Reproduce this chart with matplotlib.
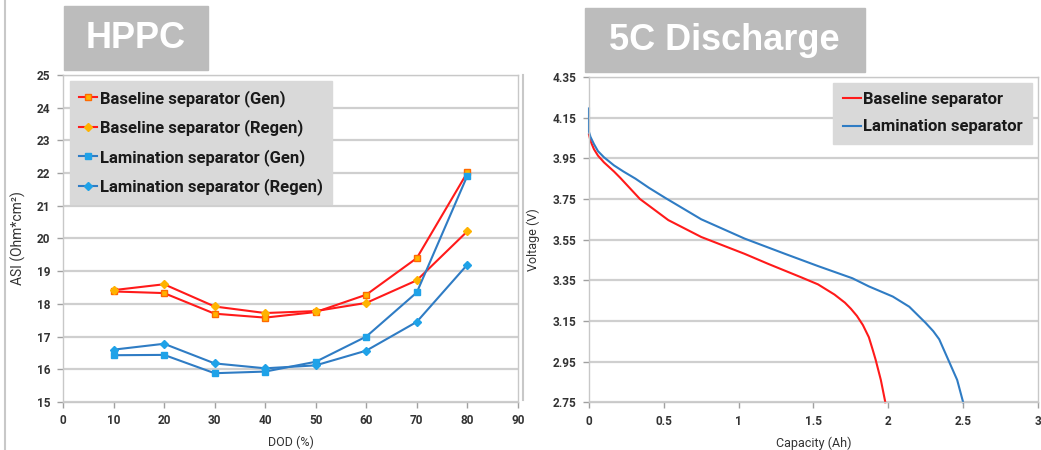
import matplotlib.pyplot as plt
from matplotlib.lines import Line2D

plt.rcParams['font.family'] = ['Roboto', 'DejaVu Sans']
plt.rcParams['font.weight'] = 'bold'

# HPPC data
dod = [10, 20, 30, 40, 50, 60, 70, 80]
base_gen = [18.38, 18.33, 17.70, 17.58, 17.75, 18.28, 19.40, 22.02]
base_regen = [18.42, 18.60, 17.92, 17.72, 17.78, 18.03, 18.72, 20.22]
lam_gen = [16.43, 16.44, 15.88, 15.93, 16.23, 17.00, 18.35, 21.92]
lam_regen = [16.60, 16.78, 16.18, 16.03, 16.12, 16.57, 17.45, 19.20]

# 5C discharge curves
base_cap = [0, 0.01, 0.033, 0.06, 0.10, 0.167, 0.21, 0.34, 0.53, 0.75, 1.04,
            1.20, 1.42, 1.53, 1.64, 1.71, 1.75, 1.79, 1.83, 1.87, 1.895,
            1.915, 1.95, 1.98]
base_volt = [4.067, 4.035, 3.995, 3.963, 3.93, 3.885, 3.853, 3.75, 3.646, 3.563,
             3.48, 3.43, 3.364, 3.33, 3.28, 3.24, 3.21, 3.175, 3.13, 3.07,
             3.01, 2.96, 2.86, 2.75]
lam_cap = [0, 0, 0.01, 0.033, 0.06, 0.10, 0.167, 0.23, 0.31, 0.40, 0.51, 0.75,
           1.04, 1.31, 1.53, 1.76, 1.87, 2.03, 2.14, 2.25, 2.30, 2.34, 2.37,
           2.40, 2.46, 2.50]
lam_volt = [4.195, 4.08, 4.055, 4.02, 3.985, 3.955, 3.915, 3.885, 3.85, 3.805,
            3.755, 3.65, 3.555, 3.48, 3.42, 3.36, 3.32, 3.27, 3.22, 3.14, 3.10,
            3.06, 3.01, 2.96, 2.86, 2.75]

RED = '#ff1a1a'
BLUE = '#2f7cc4'
LBLUE = '#1fa2e8'
ORANGE = '#ffb300'
GRID = '#cfcfcf'
TXT = '#333333'

fig = plt.figure(figsize=(10.41, 4.5), dpi=100)
fig.patch.set_facecolor('white')


def style_axes(ax):
    for s in ax.spines.values():
        s.set_color('#c8c8c8')
        s.set_linewidth(1)
    ax.tick_params(colors='#a0a0a0', labelcolor=TXT, labelsize=8.5,
                   length=4, width=1, direction='out', pad=5)
    ax.yaxis.grid(True, color=GRID, linewidth=1.6)
    ax.set_axisbelow(True)


def style_legend(leg):
    fr = leg.get_frame()
    fr.set_facecolor('#d9d9d9')
    fr.set_edgecolor('#d9d9d9')
    fr.set_alpha(1)
    for t in leg.get_texts():
        t.set_color('#1a1a1a')


# left: HPPC
ax1 = fig.add_axes([0.0605, 0.1067, 0.437, 0.7267])
ax1.plot(dod, base_gen, color=RED, lw=1.5, marker='s', ms=5,
         mfc=ORANGE, mec='#ff6a00', label='Baseline separator (Gen)')
ax1.plot(dod, base_regen, color=RED, lw=1.5, marker='D', ms=4,
         mfc=ORANGE, mec=ORANGE, label='Baseline separator (Regen)')
ax1.plot(dod, lam_gen, color=BLUE, lw=1.5, marker='s', ms=5,
         mfc=LBLUE, mec=LBLUE, label='Lamination separator (Gen)')
ax1.plot(dod, lam_regen, color=BLUE, lw=1.5, marker='D', ms=4,
         mfc=LBLUE, mec=LBLUE, label='Lamination separator (Regen)')
ax1.set_xlim(0, 90)
ax1.set_ylim(15, 25)
ax1.set_xticks(range(0, 91, 10))
ax1.set_yticks(range(15, 26))
style_axes(ax1)
ax1.set_xlabel('DOD (%)', fontsize=9, color=TXT, labelpad=6)
ax1.set_ylabel('ASI (Ohm*cm²)', fontsize=10, color=TXT, labelpad=8)
leg1 = ax1.legend(loc='upper left', bbox_to_anchor=(0.015, 0.982), fontsize=12,
                  frameon=True, fancybox=False, handlelength=1.1,
                  handletextpad=0.15, labelspacing=0.75, borderpad=0.55,
                  borderaxespad=0)
style_legend(leg1)

# right: 5C discharge
ax2 = fig.add_axes([0.5658, 0.106, 0.4313, 0.723])
ax2.plot(base_cap, base_volt, color=RED, lw=1.5, label='Baseline separator',
         clip_on=False)
ax2.plot(lam_cap, lam_volt, color=BLUE, lw=1.5, label='Lamination separator',
         clip_on=False)
ax2.set_xlim(0, 3)
ax2.set_ylim(2.75, 4.35)
ax2.set_xticks([0, 0.5, 1, 1.5, 2, 2.5, 3])
ax2.set_xticklabels(['0', '0.5', '1', '1.5', '2', '2.5', '3'])
yt = [2.75, 2.95, 3.15, 3.35, 3.55, 3.75, 3.95, 4.15, 4.35]
ax2.set_yticks(yt)
ax2.set_yticklabels([f'{v:.2f}' for v in yt])
style_axes(ax2)
ax2.set_xlabel('Capacity (Ah)', fontsize=9, color=TXT, labelpad=6)
ax2.set_ylabel('Voltage (V)', fontsize=9, color=TXT, labelpad=9)
leg2 = ax2.legend(loc='upper right', bbox_to_anchor=(0.987, 0.982), fontsize=12,
                  frameon=True, fancybox=False, handlelength=1.1,
                  handletextpad=0.15, labelspacing=0.75, borderpad=0.55,
                  borderaxespad=0)
style_legend(leg2)

# title boxes
fig.patches.append(plt.Rectangle((64 / 1041, 1 - 70 / 450), 144 / 1041, 64 / 450,
                                 transform=fig.transFigure, color='#bcbcbc'))
fig.text(136 / 1041, 1 - 39 / 450, 'HPPC', fontsize=26, fontweight='bold',
         color='white', ha='center', va='center', family='Liberation Sans')
fig.patches.append(plt.Rectangle((585 / 1041, 1 - 72 / 450), 280 / 1041, 64 / 450,
                                 transform=fig.transFigure, color='#bcbcbc'))
fig.text(724 / 1041, 1 - 41 / 450, '5C Discharge', fontsize=26, fontweight='bold',
         color='white', ha='center', va='center', family='Liberation Sans')

# outer chart borders
fig.add_artist(Line2D([5 / 1041, 5 / 1041], [0, 1], color='#c8c8c8', lw=1.5,
                      transform=fig.transFigure))
fig.add_artist(Line2D([523 / 1041, 523 / 1041], [1 - 400 / 450, 1 - 75 / 450],
                      color='#c8c8c8', lw=1.5, transform=fig.transFigure))

fig.savefig('out.png', dpi=100)
